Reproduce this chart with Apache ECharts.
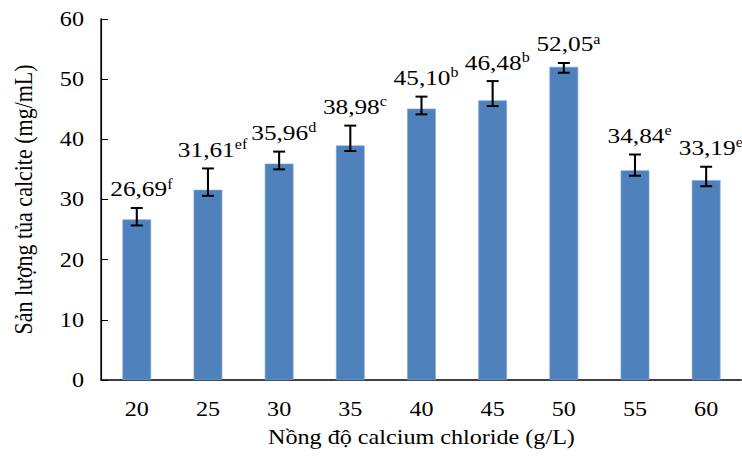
<!DOCTYPE html>
<html>
<head>
<meta charset="utf-8">
<script src="https://cdn.jsdelivr.net/npm/echarts@6/dist/echarts.min.js"></script>
<style>
html,body{margin:0;padding:0;background:#fff;width:742px;height:458px;overflow:hidden;}
#c{width:645px;height:458px;transform:scaleX(1.15);transform-origin:0 0;}
</style>
</head>
<body>
<div id="c"></div>
<script>
var categories = ['20','25','30','35','40','45','50','55','60'];
var values = [26.69, 31.61, 35.96, 38.98, 45.10, 46.48, 52.05, 34.84, 33.19];
var letters = ['f','ef','d','c','b','b','a','e','e'];
var errUp = [1.9, 3.55, 2.0, 3.3, 2.0, 3.2, 0.65, 2.65, 2.25];
var errDown = [1.0, 1.0, 0.95, 0.92, 0.95, 0.95, 1.0, 0.9, 1.0];
var yTicks = [0, 10, 20, 30, 40, 50, 60];

var FONT = '"Liberation Serif", "Times New Roman", serif';
var chart = echarts.init(document.getElementById('c'), null, {renderer: 'svg', width: 645, height: 458});

var errData = values.map(function (v, i) { return [i, v + errUp[i], v - errDown[i], v]; });

chart.setOption({
  animation: false,
  backgroundColor: '#fff',
  grid: {left: 88, top: 19, width: 562, height: 361, containLabel: false},
  xAxis: {
    type: 'category',
    data: categories,
    boundaryGap: true,
    name: 'Nồng độ calcium chloride (g/L)',
    nameLocation: 'middle',
    nameGap: 47,
    nameTextStyle: {fontFamily: FONT, fontSize: 21, color: '#000', verticalAlign: 'top'},
    axisLine: {lineStyle: {color: '#000', width: 1.5}},
    axisTick: {inside: true, length: 5, lineStyle: {color: '#000'}},
    axisLabel: {fontFamily: FONT, fontSize: 21, color: '#000', margin: 19}
  },
  yAxis: {
    type: 'value',
    min: 0, max: 60, interval: 10,
    name: 'Sản lượng tủa calcite (mg/mL)',
    nameLocation: 'middle',
    nameGap: 57,
    nameTextStyle: {fontFamily: FONT, fontSize: 22, color: '#000'},
    splitLine: {show: false},
    axisLine: {show: true, lineStyle: {color: '#000', width: 1.5}},
    axisTick: {show: true, inside: true, length: 6, lineStyle: {color: '#000'}},
    axisLabel: {fontFamily: FONT, fontSize: 21, color: '#000', margin: 15,
      formatter: function (v) { return yTicks.indexOf(v) >= 0 ? String(v) : ''; }}
  },
  series: [
    {
      type: 'bar',
      data: values,
      barWidth: 25,
      itemStyle: {color: '#4F81BD', borderColor: '#7fa6d6', borderWidth: 0.6}
    },
    {
      type: 'custom',
      data: errData,
      z: 10,
      renderItem: function (params, api) {
        var i = api.value(0);
        var top = api.coord([i, api.value(1)]);
        var bot = api.coord([i, api.value(2)]);
        var x = top[0];
        var cap = 5.2;
        var label = values[i].toFixed(2).replace('.', ',');
        return {
          type: 'group',
          children: [
            {type: 'line', shape: {x1: x, y1: top[1], x2: x, y2: bot[1]}, style: {stroke: '#000', lineWidth: 1.8}},
            {type: 'line', shape: {x1: x - cap, y1: top[1], x2: x + cap, y2: top[1]}, style: {stroke: '#000', lineWidth: 2}},
            {type: 'line', shape: {x1: x - cap, y1: bot[1], x2: x + cap, y2: bot[1]}, style: {stroke: '#000', lineWidth: 2}},
            {type: 'text', style: {
              x: x + 4, y: top[1] - 7,
              text: '{a|' + label + '}{s|' + letters[i] + '}',
              align: 'center', verticalAlign: 'bottom',
              rich: {
                a: {fontFamily: FONT, fontSize: 22, color: '#000', lineHeight: 24},
                s: {fontFamily: FONT, fontSize: 14, color: '#000', verticalAlign: 'top', lineHeight: 14}
              }
            }}
          ]
        };
      }
    }
  ]
});
</script>
</body>
</html>
